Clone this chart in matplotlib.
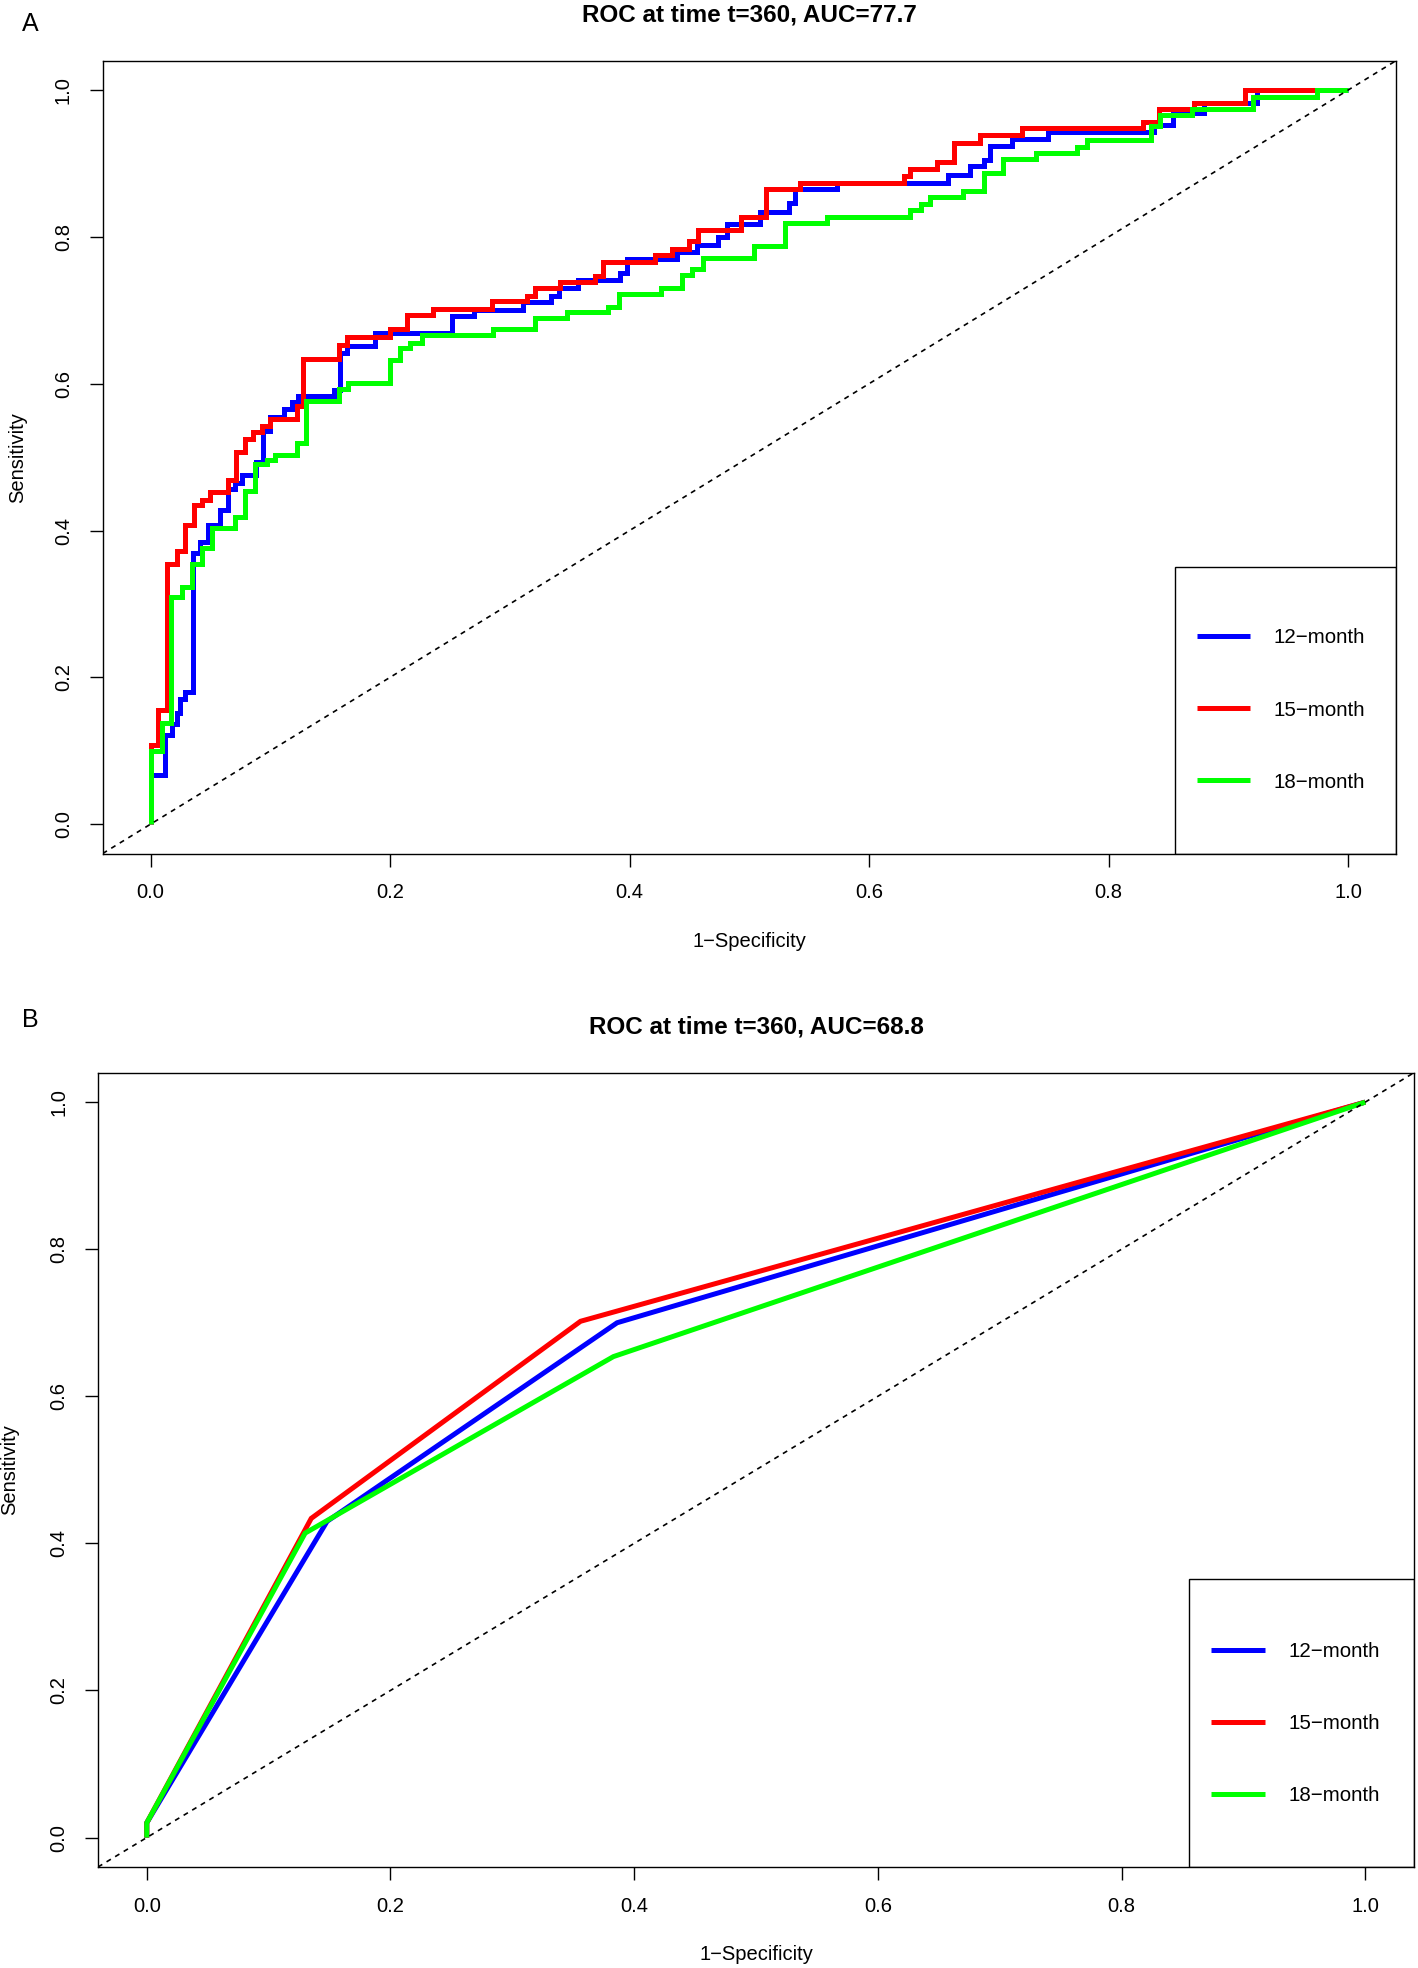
import matplotlib
matplotlib.use("Agg")
import matplotlib.pyplot as plt
from matplotlib.patches import Rectangle

plt.rcParams['font.family'] = ['Liberation Sans', 'DejaVu Sans']

# ---- data ----
labels = ["12\u2212month", "15\u2212month", "18\u2212month"]
colors = ["#0000FF", "#FF0000", "#00FF00"]

# panel A : step ROC curves
a12_fpr = [0, 0, 0.012, 0.0176, 0.022, 0.0246, 0.029, 0.0357, 0.041, 0.048,
           0.058, 0.065, 0.0705, 0.076, 0.088, 0.094, 0.0997, 0.111, 0.118, 0.123,
           0.153, 0.158, 0.164, 0.1875, 0.2515, 0.27, 0.311, 0.334, 0.341, 0.357,
           0.392, 0.398, 0.44, 0.456, 0.474, 0.481, 0.509, 0.533, 0.538, 0.573,
           0.666, 0.6845, 0.696, 0.701, 0.719, 0.749, 0.838, 0.854, 0.88, 0.924, 1.0]
a12_tpr = [0, 0.067, 0.122, 0.136, 0.152, 0.170, 0.18, 0.37, 0.385, 0.408,
           0.428, 0.456, 0.465, 0.476, 0.494, 0.535, 0.555, 0.565, 0.575, 0.583,
           0.592, 0.642, 0.651, 0.669, 0.692, 0.70, 0.711, 0.72, 0.73, 0.741,
           0.751, 0.77, 0.779, 0.789, 0.80, 0.818, 0.834, 0.846, 0.865, 0.874,
           0.884, 0.896, 0.905, 0.924, 0.934, 0.943, 0.952, 0.969, 0.983, 1.0, 1.0]

a15_fpr = [0, 0, 0.0065, 0.014, 0.022, 0.029, 0.036, 0.0427, 0.0496, 0.065,
           0.0713, 0.0789, 0.0858, 0.0928, 0.0997, 0.122, 0.1276, 0.1577, 0.1644, 0.2,
           0.214, 0.236, 0.285, 0.314, 0.321, 0.342, 0.371, 0.378, 0.421, 0.435,
           0.45, 0.457, 0.493, 0.514, 0.5425, 0.629, 0.634, 0.657, 0.671, 0.693,
           0.728, 0.829, 0.842, 0.871, 0.914, 0.973]
a15_tpr = [0, 0.108, 0.156, 0.354, 0.372, 0.408, 0.435, 0.442, 0.4526, 0.469,
           0.507, 0.525, 0.534, 0.542, 0.552, 0.570, 0.634, 0.653, 0.6635, 0.674,
           0.693, 0.702, 0.712, 0.72, 0.73, 0.738, 0.747, 0.7655, 0.775, 0.783,
           0.794, 0.81, 0.827, 0.865, 0.874, 0.883, 0.893, 0.9025, 0.928, 0.939,
           0.948, 0.956, 0.974, 0.983, 1.0, 1.0]

a18_fpr = [0, 0, 0.0093, 0.0168, 0.026, 0.0343, 0.0427, 0.051, 0.0705, 0.0789,
           0.0872, 0.097, 0.104, 0.122, 0.130, 0.157, 0.165, 0.2, 0.208, 0.2167,
           0.2265, 0.286, 0.321, 0.348, 0.382, 0.391, 0.426, 0.444, 0.452, 0.461,
           0.5035, 0.53, 0.565, 0.634, 0.643, 0.651, 0.678, 0.696, 0.712, 0.739,
           0.774, 0.782, 0.835, 0.843, 0.87, 0.921, 0.974, 1.0]
a18_tpr = [0, 0.099, 0.138, 0.31, 0.323, 0.354, 0.376, 0.404, 0.419, 0.4535,
           0.49, 0.4957, 0.503, 0.519, 0.576, 0.593, 0.601, 0.632, 0.6485, 0.656,
           0.667, 0.674, 0.689, 0.697, 0.705, 0.722, 0.73, 0.748, 0.756, 0.771,
           0.787, 0.8195, 0.827, 0.837, 0.845, 0.855, 0.863, 0.8875, 0.906, 0.914,
           0.922, 0.932, 0.951, 0.966, 0.974, 0.991, 1.0, 1.0]

# panel B : three-point ROC curves
b12_fpr = [0, 0, 0.148, 0.386, 1.0]
b12_tpr = [0, 0.02, 0.43, 0.700, 1.0]
b15_fpr = [0, 0, 0.135, 0.356, 1.0]
b15_tpr = [0, 0.02, 0.434, 0.702, 1.0]
b18_fpr = [0, 0, 0.130, 0.383, 1.0]
b18_tpr = [0, 0.02, 0.414, 0.654, 1.0]

title_a = "ROC at time t=360, AUC=77.7"
title_b = "ROC at time t=360, AUC=68.8"
ticks = [0.0, 0.2, 0.4, 0.6, 0.8, 1.0]

W, H = 1418, 1968
fig = plt.figure(figsize=(W / 100, H / 100), dpi=100)


def add_ax(left, top, right, bottom):
    return fig.add_axes([left / W, 1 - bottom / H, (right - left) / W, (bottom - top) / H])


def draw_panel(ax, curves, title, step, xlab_y, ylab_x):
    for (fpr, tpr), c, lab in zip(curves, colors, labels):
        ax.plot(fpr, tpr, color=c, lw=3.6, label=lab,
                drawstyle="steps-post" if step else "default",
                solid_joinstyle="miter", solid_capstyle="butt")
    ax.axline((0, 0), (1, 1), color="black", lw=1.2, ls=(0, (3, 3)))
    ax.set_xlim(-0.04, 1.04)
    ax.set_ylim(-0.04, 1.04)
    ax.set_xticks(ticks)
    ax.set_yticks(ticks)
    ax.set_xticklabels(["%.1f" % t for t in ticks])
    ax.set_yticklabels(["%.1f" % t for t in ticks], rotation=90, va="center")
    ax.tick_params(length=9.4, width=1, pad=12, labelsize=14.5)
    for s in ax.spines.values():
        s.set_linewidth(1.0)
    ax.set_title(title, fontsize=17.5, fontweight="bold", pad=28)
    ax.set_xlabel("1\u2212Specificity", fontsize=14.5)
    ax.set_ylabel("Sensitivity", fontsize=14.5)
    ax.xaxis.set_label_coords(0.5, xlab_y)
    ax.xaxis.label.set_va("center")
    ax.yaxis.set_label_coords(ylab_x, 0.5)
    ax.yaxis.label.set_va("center")
    # legend box in the bottom-right corner
    ax.add_patch(Rectangle((0.829, 0.0), 0.171, 0.362, transform=ax.transAxes,
                           fill=False, edgecolor="black", lw=1.0, zorder=5))
    ax.legend(loc="center left", bbox_to_anchor=(0.846, 0.181), frameon=False,
              borderpad=0, borderaxespad=0, fontsize=14.8, handlelength=2.6,
              handletextpad=1.15, labelspacing=2.58)


ax_a = add_ax(102.7, 60.7, 1396, 853.5)
draw_panel(ax_a, [(a12_fpr, a12_tpr), (a15_fpr, a15_tpr), (a18_fpr, a18_tpr)],
           title_a, True, -0.1116, -0.0658)

ax_b = add_ax(98, 1072.7, 1414, 1867)
draw_panel(ax_b, [(b12_fpr, b12_tpr), (b15_fpr, b15_tpr), (b18_fpr, b18_tpr)],
           title_b, False, -0.1096, -0.0669)

fig.text(30 / W, 1 - 24 / H, "A", fontsize=18, ha="center", va="center")
fig.text(30 / W, 1 - 1020 / H, "B", fontsize=18, ha="center", va="center")

fig.savefig("out.png", dpi=100)
